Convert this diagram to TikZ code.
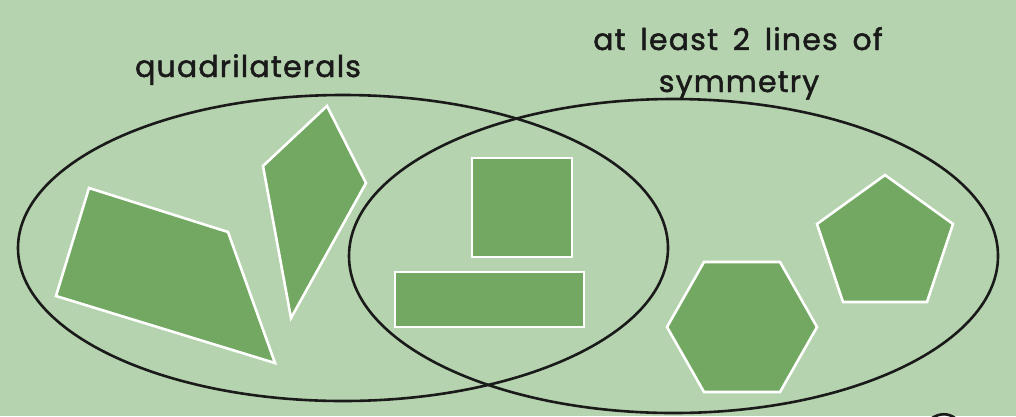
\documentclass[tikz,border=0pt]{standalone}
\usepackage{fontspec}
\setmainfont{Poppins}
\newfontfamily\lblfont{Poppins}[FakeBold=1.6,LetterSpace=4,WordSpace=1.6]
\definecolor{bg}{HTML}{B5D3AE}
\definecolor{shapefill}{HTML}{73A862}
\definecolor{ink}{HTML}{1A1A1A}
\begin{document}
\begin{tikzpicture}[x=1pt,y=-1pt,
  shp/.style={fill=shapefill,draw=white,line width=2.6pt,line join=miter},
  setline/.style={draw=ink,line width=2.6pt},
  lbl/.style={text=ink,font=\lblfont\fontsize{30}{36}\selectfont,align=center,inner sep=0pt}]
\fill[bg] (0,0) rectangle (1016,416);
\useasboundingbox (0,0) rectangle (1016,416);
% sets
\draw[setline] (343,248) ellipse [x radius=325, y radius=153];
\draw[setline] (673.5,256) ellipse [x radius=324.5, y radius=157];
% shapes
\draw[shp] (89,188) -- (228,232) -- (275,363) -- (56,296) -- cycle;
\draw[shp] (327,106) -- (366,183) -- (291,318) -- (263,166) -- cycle;
\draw[shp] (472,158) rectangle (572,257);
\draw[shp] (395,272) rectangle (584,327);
\draw[shp] (704,262) -- (780,262) -- (817,327) -- (780,392) -- (704,392) -- (667,327) -- cycle;
\draw[shp] (885,175) -- (953,224) -- (927,302) -- (843,302) -- (817,224) -- cycle;
% clipped arc at bottom right
\draw[setline] (932,418) .. controls (940,413) and (948,413) .. (955,418);
% labels
\node[lbl,anchor=base] (q) at (248,77) {quadrilaterals};
\node[lbl,anchor=base] (s1) at (738,50) {at least 2 lines of};
\node[lbl,anchor=base] (s2) at (739,92) {symmetry};
\end{tikzpicture}
\end{document}
